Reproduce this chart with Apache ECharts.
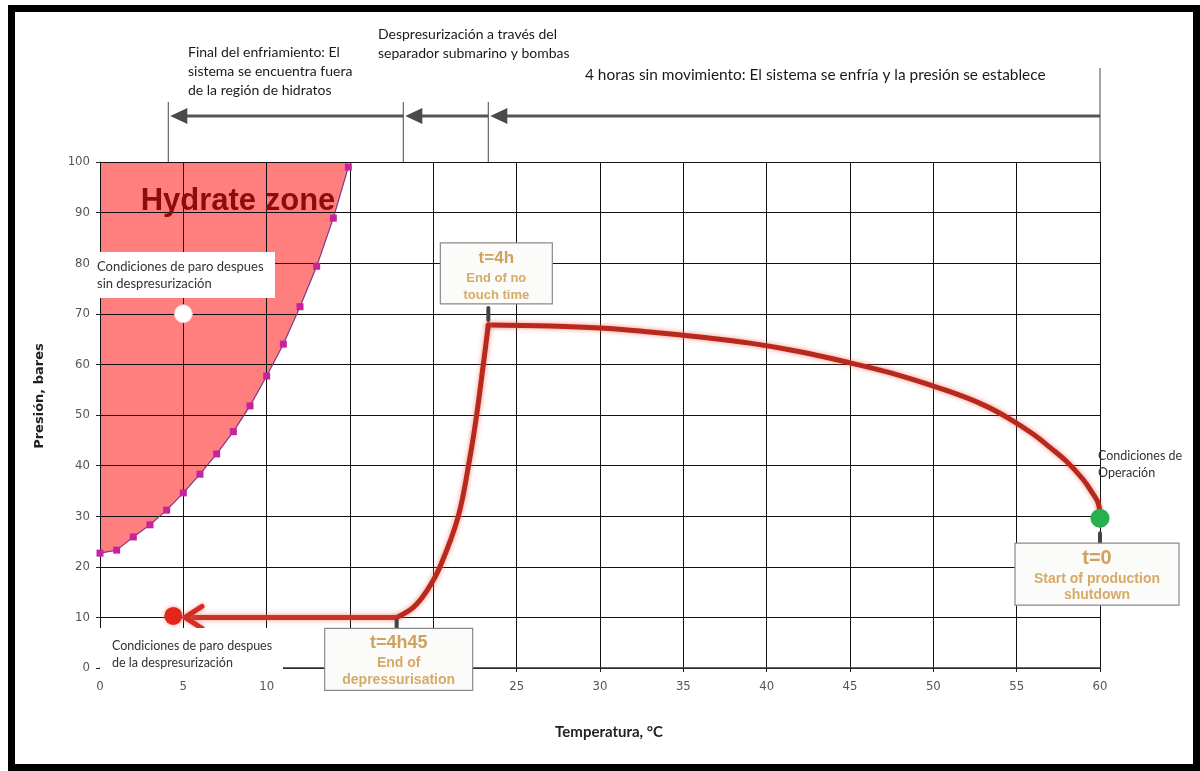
<!DOCTYPE html>
<html>
<head>
<meta charset="utf-8">
<script src="https://cdn.jsdelivr.net/npm/echarts@6/dist/echarts.min.js"></script>
<style>
  html, body { margin: 0; padding: 0; background: #fff; }
  #chart { width: 1200px; height: 771px; }
</style>
</head>
<body>
<div id="chart"></div>
<script>
// ---- Axis ticks ----
const tempTicks = [0, 5, 10, 15, 20, 25, 30, 35, 40, 45, 50, 55, 60];          // °C
const pressureTicks = [0, 10, 20, 30, 40, 50, 60, 70, 80, 90, 100];            // bar

// ---- Hydrate equilibrium curve (boundary of the hydrate zone) ----
const hydrateTemp = [0, 1, 2, 3, 4, 5, 6, 7, 8, 9, 10, 11, 12, 13, 14, 14.9];
const hydratePressure = [22.7, 23.3, 25.9, 28.3, 31.2, 34.6, 38.3, 42.3, 46.7, 51.8, 57.7, 64.0, 71.4, 79.4, 88.9, 99.0];

// ---- Shutdown path: 4 h no-touch cooldown ----
const cooldownTemp = [60, 59.9, 59.5, 59, 58, 57, 56, 54.5, 53, 51, 48, 45, 42, 39, 36, 33, 30, 27, 23.3];
const cooldownPressure = [29.6, 32.5, 34.8, 37.2, 40.8, 43.6, 46.2, 49.4, 52.0, 54.6, 57.8, 60.3, 62.5, 64.2, 65.4, 66.4, 67.2, 67.6, 67.8];

// ---- Depressurisation through subsea separator and pumps ----
const depressTemp = [23.3, 23.0, 22.6, 22.2, 21.5, 20.4, 19.6, 18.8, 17.8];
const depressPressure = [67.8, 60, 50, 41.7, 30, 20, 15.2, 12, 10];

// ---- Final cooldown at low pressure ----
const finalTemp = [17.8, 5.1];
const finalPressure = [10, 10];

// ---- Characteristic states ----
const operatingState = [60, 29.6];        // operating conditions
const noDepressState = [5, 70];           // shut-in without depressurisation
const afterDepressState = [4.4, 10.3];    // shut-in after depressurisation

// ---- Phase boundaries along the top (°C) and their captions ----
const phaseBounds = [60, 23.3, 18.2, 4.1];
const phaseCaptions = [
  ['4 horas sin movimiento: El sistema se enfría y la presión se establece'],
  ['Despresurización a través del', 'separador submarino y bombas'],
  ['Final del enfriamiento: El', 'sistema se encuentra fuera', 'de la región de hidratos']
];

// ---- Time callouts anchored on the path ----
const calloutTitles = ['t=4h', 't=0', 't=4h45'];
const calloutLines = [['End of no', 'touch time'], ['Start of production', 'shutdown'], ['End of', 'depressurisation']];
const calloutAnchors = [[23.3, 67.8], [60, 29.6], [17.8, 10]];

const zip = (a, b) => a.map((v, i) => [v, b[i]]);

const TEXT_FONT = 'Lato, "Open Sans", sans-serif';
const NUM_FONT = '"Liberation Sans Narrow", "Arial Narrow", "DejaVu Sans Condensed", sans-serif';
const PATH_RED = '#B9281D';
const TAN = '#CFA25E';

// Layout of each callout box relative to its anchor (px)
const calloutLayout = [
  { dx: -48, dy: -82, w: 112, h: 61, conn: [-17, -5], titleSize: 17, lineSize: 13, rows: [15, 35, 52] },
  { dx: -85, dy: 25, w: 164, h: 62, conn: [15, 27], titleSize: 20, lineSize: 14, rows: [15, 36, 52] },
  { dx: -72, dy: 11, w: 148, h: 62, conn: [3, 11], titleSize: 18, lineSize: 14, rows: [15, 35, 52] }
];

const chart = echarts.init(document.getElementById('chart'), null, { renderer: 'canvas' });

const gridTop = 162, gridBottom = 103;
const pathLine = { color: PATH_RED, width: 5, shadowColor: 'rgba(235,100,80,0.7)', shadowBlur: 5, cap: 'round' };

const option = {
  animation: false,
  backgroundColor: '#fff',
  grid: { left: 100, right: 100, top: gridTop, bottom: gridBottom, outerBoundsMode: 'none', containLabel: false },
  xAxis: {
    type: 'value', min: tempTicks[0], max: tempTicks[tempTicks.length - 1], interval: 5, z: 1,
    axisLine: { show: true, lineStyle: { color: '#333', width: 1.5 } },
    axisTick: { show: true, inside: false, length: 4, lineStyle: { color: '#222' } },
    axisLabel: { margin: 12, color: '#555', fontSize: 13, fontFamily: NUM_FONT },
    splitLine: { show: true, lineStyle: { color: '#111', width: 1 } }
  },
  yAxis: {
    type: 'value', min: pressureTicks[0], max: pressureTicks[pressureTicks.length - 1], interval: 10, z: 1,
    axisLine: { show: true, lineStyle: { color: '#111', width: 1 } },
    axisTick: { show: true, inside: false, length: 4, lineStyle: { color: '#222' } },
    axisLabel: { margin: 10, color: '#555', fontSize: 13, fontFamily: NUM_FONT },
    splitLine: { show: true, lineStyle: { color: '#111', width: 1 } }
  },
  series: [
    // hydrate zone fill (under the grid lines)
    {
      type: 'line', z: -1, silent: true, symbol: 'none',
      data: zip(hydrateTemp, hydratePressure),
      lineStyle: { width: 0 },
      areaStyle: { color: '#FF7F7F', opacity: 1, origin: 'end' }
    },
    // hydrate equilibrium curve with measured points
    {
      type: 'line', z: 3, silent: true, symbol: 'rect', symbolSize: 7,
      data: zip(hydrateTemp, hydratePressure),
      lineStyle: { color: '#7A3A8A', width: 1.2 },
      itemStyle: { color: '#C8229C', opacity: 1 }
    },
    // cooldown path
    {
      type: 'line', z: 4, silent: true, symbol: 'none', smooth: 0.4,
      data: zip(cooldownTemp, cooldownPressure),
      lineStyle: pathLine
    },
    // depressurisation path
    {
      type: 'line', z: 4, silent: true, symbol: 'none', smooth: 0.35,
      data: zip(depressTemp, depressPressure),
      lineStyle: pathLine
    },
    // final cooldown at low pressure
    {
      type: 'line', z: 4, silent: true, symbol: 'none',
      data: zip(finalTemp, finalPressure),
      lineStyle: { color: '#C8342A', width: 5, shadowColor: 'rgba(235,100,80,0.7)', shadowBlur: 5 }
    },
    // arrowhead at the end of the final cooldown
    {
      type: 'custom', z: 5, silent: true,
      data: [[finalTemp[finalTemp.length - 1], finalPressure[finalPressure.length - 1]]],
      renderItem(params, api) {
        const p = api.coord([api.value(0), api.value(1)]);
        return {
          type: 'polyline',
          shape: { points: [[p[0] + 17, p[1] - 11], [p[0], p[1]], [p[0] + 17, p[1] + 11]] },
          style: { stroke: '#D42E22', lineWidth: 5, fill: null, lineCap: 'round', lineJoin: 'round',
                   shadowColor: 'rgba(235,100,80,0.6)', shadowBlur: 4 }
        };
      }
    },
    // characteristic states
    {
      type: 'scatter', z: 6, silent: true, symbolSize: 18,
      data: [afterDepressState],
      itemStyle: { color: '#E3261B', opacity: 1, shadowColor: 'rgba(235,80,60,0.6)', shadowBlur: 4 }
    },
    {
      type: 'scatter', z: 6, silent: true, symbolSize: 18,
      data: [noDepressState],
      itemStyle: { color: '#FFFFFF', opacity: 1, borderColor: '#F4C8C8', borderWidth: 1 }
    },
    {
      type: 'scatter', z: 6, silent: true, symbolSize: 19,
      data: [operatingState],
      itemStyle: { color: '#27B04E', opacity: 1 }
    },
    // phase boundary markers above the plot
    {
      type: 'custom', z: 2, silent: true,
      data: phaseBounds.map(t => [t, 100]),
      renderItem(params, api) {
        const x = api.coord([api.value(0), 100])[0];
        const top = params.dataIndex === 0 ? 68 : 102;
        return { type: 'line', shape: { x1: x, y1: top, x2: x, y2: gridTop }, style: { stroke: '#666', lineWidth: 1.2 } };
      }
    },
    // phase arrows
    {
      type: 'custom', z: 2, silent: true,
      data: phaseBounds.slice(0, -1).map((t, i) => [t, phaseBounds[i + 1]]),
      renderItem(params, api) {
        const x0 = api.coord([api.value(0), 0])[0];
        const x1 = api.coord([api.value(1), 0])[0] + 2;
        const y = 116;
        return {
          type: 'group',
          children: [
            { type: 'line', shape: { x1: x0, y1: y, x2: x1 + 12, y2: y }, style: { stroke: '#555', lineWidth: 3 } },
            { type: 'polygon', shape: { points: [[x1, y], [x1 + 17, y - 8], [x1 + 17, y + 8]] }, style: { fill: '#4A4A4A' } }
          ]
        };
      }
    },
    // time callouts
    {
      type: 'custom', z: 8, silent: true,
      data: calloutAnchors,
      renderItem(params, api) {
        const i = params.dataIndex;
        const L = calloutLayout[i];
        const p = api.coord([api.value(0), api.value(1)]);
        const bx = p[0] + L.dx, by = p[1] + L.dy, cx = bx + L.w / 2;
        const lines = calloutLines[i];
        return {
          type: 'group',
          children: [
            { type: 'line', shape: { x1: p[0], y1: p[1] + L.conn[0], x2: p[0], y2: p[1] + L.conn[1] },
              style: { stroke: '#444', lineWidth: 4, lineCap: 'round' } },
            { type: 'rect', shape: { x: bx, y: by, width: L.w, height: L.h },
              style: { fill: '#FBFBFA', stroke: '#8A8A8A', lineWidth: 1.2 } },
            { type: 'text', style: { text: calloutTitles[i], x: cx, y: by + L.rows[0], textAlign: 'center', textVerticalAlign: 'middle',
              font: 'bold ' + L.titleSize + 'px "Liberation Sans", Arial, sans-serif', fill: TAN } },
            { type: 'text', style: { text: lines[0], x: cx, y: by + L.rows[1], textAlign: 'center', textVerticalAlign: 'middle',
              font: 'bold ' + L.lineSize + 'px "Liberation Sans", Arial, sans-serif', fill: '#D6AA68' } },
            { type: 'text', style: { text: lines[1], x: cx, y: by + L.rows[2], textAlign: 'center', textVerticalAlign: 'middle',
              font: 'bold ' + L.lineSize + 'px "Liberation Sans", Arial, sans-serif', fill: '#D6AA68' } }
          ]
        };
      }
    }
  ],
  graphic: [
    // outer frame
    { type: 'rect', z: 100, silent: true, shape: { x: 11.5, y: 8.5, width: 1185, height: 759 },
      style: { fill: null, stroke: '#000', lineWidth: 7 } },
    // axis titles
    { type: 'text', z: 50, silent: true, rotation: Math.PI / 2, x: 40, y: 396,
      style: { text: 'Presión, bares', textAlign: 'center', textVerticalAlign: 'middle', font: 'bold 13px "DejaVu Sans", sans-serif', fill: '#222' } },
    { type: 'text', z: 50, silent: true,
      style: { text: 'Temperatura, °C', x: 609, y: 732, textAlign: 'center', textVerticalAlign: 'middle', font: 'bold 15px ' + TEXT_FONT, fill: '#222' } },
    // hydrate zone title
    { type: 'text', z: 50, silent: true,
      style: { text: 'Hydrate zone', x: 238, y: 201, textAlign: 'center', textVerticalAlign: 'middle',
               font: 'bold 31px "Liberation Sans", Arial, sans-serif', fill: '#8E0B0B' } },
    // shut-in state without depressurisation
    { type: 'rect', z: 50, silent: true, shape: { x: 90, y: 252, width: 185, height: 46 }, style: { fill: '#fff' } },
    { type: 'text', z: 51, silent: true,
      style: { text: 'Condiciones de paro despues\nsin despresurización', x: 97, y: 258, lineHeight: 17,
               textAlign: 'left', textVerticalAlign: 'top', font: '13px ' + TEXT_FONT, fill: '#333' } },
    // shut-in state after depressurisation
    { type: 'rect', z: 50, silent: true, shape: { x: 100, y: 628, width: 183, height: 44 }, style: { fill: '#fff' } },
    { type: 'text', z: 51, silent: true,
      style: { text: 'Condiciones de paro despues\nde la despresurización', x: 112, y: 637, lineHeight: 17,
               textAlign: 'left', textVerticalAlign: 'top', font: '12.5px ' + TEXT_FONT, fill: '#333' } },
    // operating state
    { type: 'text', z: 51, silent: true,
      style: { text: 'Condiciones de\nOperación', x: 1098, y: 447, lineHeight: 17,
               textAlign: 'left', textVerticalAlign: 'top', font: '12.5px ' + TEXT_FONT, fill: '#333' } },
    // phase captions
    { type: 'text', z: 51, silent: true,
      style: { text: phaseCaptions[0].join('\n'), x: 585, y: 66, lineHeight: 19,
               textAlign: 'left', textVerticalAlign: 'top', font: '15.4px ' + TEXT_FONT, fill: '#1a1a1a' } },
    { type: 'text', z: 51, silent: true,
      style: { text: phaseCaptions[1].join('\n'), x: 378, y: 25, lineHeight: 19,
               textAlign: 'left', textVerticalAlign: 'top', font: '14px ' + TEXT_FONT, fill: '#1a1a1a' } },
    { type: 'text', z: 51, silent: true,
      style: { text: phaseCaptions[2].join('\n'), x: 188, y: 43, lineHeight: 19,
               textAlign: 'left', textVerticalAlign: 'top', font: '14px ' + TEXT_FONT, fill: '#1a1a1a' } }
  ]
};

chart.setOption(option);
</script>
</body>
</html>
